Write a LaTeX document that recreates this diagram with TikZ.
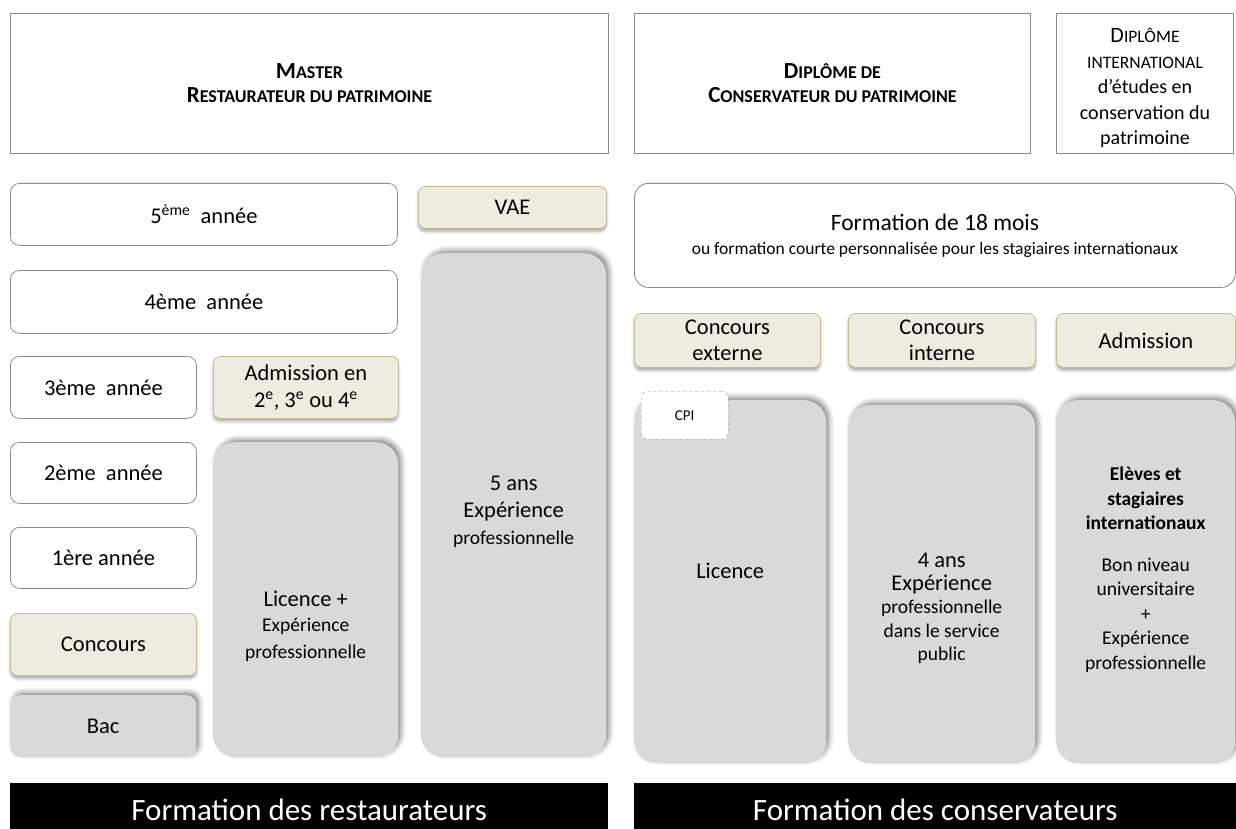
\documentclass[tikz,border=0pt]{standalone}
\usepackage{fontspec}
\setmainfont{Carlito}
\usetikzlibrary{shadows.blur}

\definecolor{beigefill}{HTML}{EEECE1}
\definecolor{beigeline}{HTML}{C4BD97}
\definecolor{greyfill}{HTML}{D9D9D9}
\definecolor{boxline}{HTML}{8C8C8C}

% big first letter, rest in (fake) small caps
\newcommand{\capsc}[2]{{\fontsize{23}{24}\selectfont #1}{\fontsize{18}{24}\selectfont #2}}
\newcommand{\sz}[1]{\fontsize{#1}{1.2\dimexpr#1pt\relax}\selectfont}

\tikzset{
    titlebox/.style = {draw = boxline, line width = 1pt, fill = white, align = center,
        anchor = north west, inner sep = 2pt, font = \bfseries\fontsize{18}{24}\selectfont},
    yearbox/.style = {draw = boxline, line width = 0.8pt, fill = white, rounded corners = 9pt,
        anchor = north west, align = center},
    accessbox/.style = {draw = beigeline, line width = 0.8pt, fill = beigefill, rounded corners = 7pt,
        anchor = north west, align = center,
        blur shadow = {shadow xshift = 0pt, shadow yshift = -3pt, shadow blur radius = 3pt, shadow opacity = 35}},
    greybox/.style = {fill = greyfill, rounded corners = 22pt, anchor = north west,
        blur shadow = {shadow xshift = 3pt, shadow yshift = 3pt, shadow blur radius = 5pt, shadow opacity = 45}},
    banner/.style = {fill = black, anchor = north west},
    bannertext/.style = {text = white, font = \sz{31}, inner sep = 1pt}
}

\begin{document}
\begin{tikzpicture}[x = 1pt, y = -1pt, font = \sz{22.5}]
    \useasboundingbox (0,0) rectangle (1236,829);

    % titles
    \node[titlebox, minimum width = 598pt, minimum height = 140pt] (master) at (10,13)
        {\capsc{M}{ASTER}\\ \capsc{R}{ESTAURATEUR DU PATRIMOINE}};
    \node[titlebox, minimum width = 396pt, minimum height = 140pt] (cons) at (634,13)
        {\capsc{D}{IPLÔME DE}\\ \capsc{C}{ONSERVATEUR DU PATRIMOINE}};
    \node[titlebox, minimum width = 177pt, minimum height = 140pt, font = \fontsize{20}{25.5}\selectfont] (inter) at (1056,13)
        {\rule{0pt}{24pt}{\sz{22}D}{\sz{17.5}IPLÔME}\\ {\sz{17.5}INTERNATIONAL}\\ d’études en\\ conservation du\\ patrimoine};

    % restaurateurs
    \node[yearbox, minimum width = 387pt, minimum height = 62pt] (y5) at (10,183) {5\textsuperscript{ème}\ \ année};
    \node[yearbox, minimum width = 387pt, minimum height = 63pt] (y4) at (10,270) {4ème\ \ année};
    \node[yearbox, minimum width = 186pt, minimum height = 62pt] (y3) at (10,356) {3ème\ \ année};
    \node[yearbox, minimum width = 186pt, minimum height = 61pt] (y2) at (10,442) {2ème\ \ année};
    \node[yearbox, minimum width = 186pt, minimum height = 61pt] (y1) at (10,527) {1ère année};
    \node[accessbox, minimum width = 186pt, minimum height = 62pt] (conc) at (10,613) {Concours};
    \node[greybox, rounded corners = 10pt, minimum width = 186pt, minimum height = 62pt] (bac) at (10,695) {Bac};

    \node[accessbox, minimum width = 185pt, minimum height = 62pt] (adm) at (213,356)
        {Admission en\\ 2\textsuperscript{e}, 3\textsuperscript{e} ou 4\textsuperscript{e}};
    \node[greybox, minimum width = 185pt, minimum height = 315pt] (lic) at (213,442) {};
    \node[align = center] at ([yshift = -27pt]lic.center)
        {Licence +\\[-2pt] {\sz{19.5}Expérience}\\ {\sz{19.5}professionnelle}};

    \node[accessbox, minimum width = 188pt, minimum height = 42pt] (vae) at (418,186) {VAE};
    \node[greybox, minimum width = 185pt, minimum height = 504pt] (exp5) at (421,253) {};
    \node[align = center] at ([yshift = -7pt]exp5.center)
        {5 ans\\ Expérience\\ {\sz{19.5}professionnelle}};

    % conservateurs
    \node[yearbox, rounded corners = 14pt, minimum width = 601pt, minimum height = 104pt] (form) at (634,183)
        {{\sz{23.5}Formation de 18 mois}\\[-3pt] {\sz{17.5}ou formation courte personnalisée pour les stagiaires internationaux}};

    \node[accessbox, minimum width = 186pt, minimum height = 54pt] (cext) at (634,313)
        {Concours\\[-1pt] externe};
    \node[accessbox, minimum width = 187pt, minimum height = 54pt] (cint) at (848,313)
        {Concours\\[-1pt] interne};
    \node[accessbox, minimum width = 179pt, minimum height = 54pt] (cadm) at (1056,313) {Admission};

    \node[greybox, minimum width = 192pt, minimum height = 363pt] (licc) at (634,400) {};
    \node at ([yshift = 11pt]licc.center) {Licence};
    \node[draw = boxline, dashed, fill = white, rounded corners = 6pt, anchor = north west,
        minimum width = 87pt, minimum height = 48pt, font = \sz{15}] (cpi) at (641,391) {CPI};

    \node[greybox, minimum width = 187pt, minimum height = 358pt] (exp4) at (848,405) {};
    \node[align = center, font = \sz{19.5}] at ([yshift = -24pt]exp4.center)
        {{\sz{22.5}4 ans}\\ {\sz{22.5}Expérience}\\ professionnelle\\ dans le service\\ public};

    \node[greybox, minimum width = 179pt, minimum height = 363pt] (intl) at (1056,400) {};
    \node[align = center, font = \fontsize{19.5}{24.5}\selectfont] at ([yshift = 12pt]intl.center)
        {\textbf{Elèves et}\\ \textbf{stagiaires}\\ \textbf{internationaux}\\[17pt] Bon niveau\\ universitaire\\ +\\ Expérience\\ professionnelle};

    % banners
    \node[banner, minimum width = 598pt, minimum height = 46pt] (bres) at (10,783) {};
    \node[bannertext] at ([yshift = -4pt]bres.center) {Formation des restaurateurs};
    \node[banner, minimum width = 602pt, minimum height = 46pt] (bcons) at (634,783) {};
    \node[bannertext] at ([yshift = -4pt]bcons.center) {Formation des conservateurs};
\end{tikzpicture}
\end{document}
